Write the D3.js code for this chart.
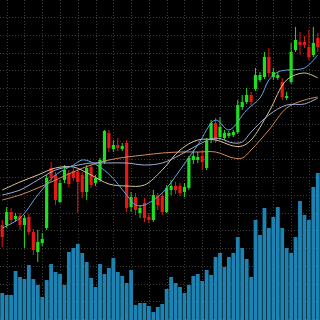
<!DOCTYPE html>
<html>
<head>
<meta charset="utf-8">
<script src="https://cdn.jsdelivr.net/npm/d3@7"></script>
<style>
  html, body { margin: 0; padding: 0; background: #000; }
  #chart { width: 320px; height: 320px; }
</style>
</head>
<body>
<div id="chart"></div>
<script>
// candles
var opens  = [1.1095,1.1095,1.1108,1.1101,1.1104,1.1095,1.1103,1.1088,1.1068,1.1077,1.1092,1.1152,1.1145,1.1118,1.1140,1.1147,1.1149,1.1148,1.1145,1.1128,
              1.1153,1.1137,1.1140,1.1158,1.1187,1.1171,1.1175,1.1171,1.1177,1.1113,1.1123,1.1107,1.1117,1.1103,1.1100,1.1124,1.1124,1.1108,1.1130,1.1134,
              1.1134,1.1128,1.1132,1.1160,1.1160,1.1164,1.1152,1.1180,1.1197,1.1183,1.1182,1.1184,1.1185,1.1188,1.1213,1.1218,1.1225,1.1231,1.1240,1.1243,
              1.1263,1.1243,1.1242,1.1238,1.1222,1.1238,1.1270,1.1278,1.1278,1.1273,1.1265,1.1282];
var highs  = [1.1100,1.1113,1.1112,1.1107,1.1107,1.1105,1.1106,1.1091,1.1090,1.1087,1.1145,1.1158,1.1148,1.1140,1.1155,1.1150,1.1152,1.1151,1.1148,1.1155,
              1.1156,1.1145,1.1162,1.1190,1.1190,1.1180,1.1182,1.1177,1.1180,1.1128,1.1127,1.1115,1.1122,1.1107,1.1130,1.1127,1.1127,1.1135,1.1140,1.1138,
              1.1137,1.1137,1.1164,1.1170,1.1168,1.1170,1.1182,1.1200,1.1202,1.1203,1.1190,1.1189,1.1190,1.1220,1.1225,1.1232,1.1228,1.1252,1.1248,1.1268,
              1.1272,1.1252,1.1248,1.1242,1.1228,1.1277,1.1293,1.1288,1.1284,1.1290,1.1293,1.1287];
var lows   = [1.1073,1.1092,1.1097,1.1098,1.1090,1.1072,1.1085,1.1065,1.1058,1.1074,1.1090,1.1138,1.1115,1.1117,1.1137,1.1133,1.1139,1.1107,1.1122,1.1120,
              1.1132,1.1134,1.1138,1.1156,1.1168,1.1168,1.1169,1.1169,1.1108,1.1108,1.1105,1.1102,1.1098,1.1097,1.1098,1.1110,1.1105,1.1107,1.1125,1.1126,
              1.1124,1.1123,1.1130,1.1156,1.1157,1.1150,1.1150,1.1177,1.1177,1.1180,1.1180,1.1182,1.1183,1.1186,1.1210,1.1216,1.1215,1.1229,1.1238,1.1241,
              1.1243,1.1240,1.1240,1.1220,1.1220,1.1236,1.1268,1.1265,1.1272,1.1260,1.1263,1.1268];
var closes = [1.1083,1.1108,1.1100,1.1104,1.1095,1.1102,1.1088,1.1070,1.1078,1.1081,1.1142,1.1142,1.1120,1.1137,1.1150,1.1136,1.1142,1.1138,1.1128,1.1152,
              1.1135,1.1142,1.1160,1.1189,1.1172,1.1175,1.1172,1.1174,1.1112,1.1123,1.1110,1.1112,1.1102,1.1100,1.1125,1.1115,1.1108,1.1132,1.1134,1.1130,
              1.1127,1.1133,1.1162,1.1164,1.1163,1.1158,1.1179,1.1197,1.1180,1.1193,1.1187,1.1187,1.1188,1.1215,1.1218,1.1225,1.1218,1.1245,1.1245,1.1263,
              1.1247,1.1248,1.1245,1.1223,1.1224,1.1268,1.1280,1.1275,1.1275,1.1263,1.1277,1.1273];
var volumes = [270,250,250,490,430,410,550,410,350,230,400,560,480,460,350,680,720,760,670,580,
               420,330,560,460,520,620,480,440,370,500,150,170,170,140,80,130,160,310,430,370,
               330,270,350,440,460,390,500,450,630,670,530,630,670,830,720,610,430,1000,850,1120,
               920,1030,1130,920,720,670,830,1190,1050,1000,1330,1470];

// moving average lines, sampled at candle index
var maFastIdx = [0,4,8,12,16,18,20,24,28,30,32,36,40,44,48,51,55,58,60,62,64,68,71];
var maFast    = [1.1092,1.1102,1.1125,1.1145,1.1155,1.1160,1.1158,1.1146,1.1125,1.1115,1.1115,1.1127,1.1150,1.1175,1.1200,1.1190,1.1210,1.1222,1.1240,1.1248,1.1250,1.1252,1.1265];
var maIdx     = [0,4,8,12,16,20,24,28,32,36,40,44,48,52,54,56,60,64,68,71];
var maLav     = [1.1125,1.1130,1.1140,1.1150,1.1154,1.1157,1.1157,1.1157,1.1155,1.1157,1.1165,1.1175,1.1182,1.1177,1.1178,1.1188,1.1205,1.1215,1.1216,1.1222];
var maBeige   = [1.1130,1.1138,1.1145,1.1152,1.1153,1.1145,1.1136,1.1134,1.1135,1.1150,1.1170,1.1180,1.1180,1.1174,1.1174,1.1180,1.1208,1.1240,1.1247,1.1242];
var maOrange  = [1.1120,1.1125,1.1132,1.1140,1.1148,1.1155,1.1160,1.1163,1.1165,1.1167,1.1168,1.1168,1.1168,1.1162,1.1162,1.1170,1.1190,1.1212,1.1220,1.1223];

var width = 320, height = 320;

var svg = d3.select("#chart").append("svg")
    .attr("width", width)
    .attr("height", height)
    .style("display", "block")
    .style("background", "#000");

var x = d3.scaleBand().domain(d3.range(opens.length)).range([0, width]);
var y = d3.scaleLinear().domain([1.1000, 1.1320]).range([height, 0]);
var yVol = d3.scaleLinear().domain([0, 3200]).range([height, 0]);

var cx = function(i) { return x(i) + x.bandwidth() / 2; };

// dotted grid, every 4 candles
var gridX = d3.range(1, opens.length, 4);
var step = x.bandwidth() * 4;
var gridY = d3.range(17, height, step);

var grid = svg.append("g").attr("class", "grid")
    .attr("stroke", "#3c3c3c")
    .attr("stroke-width", 1)
    .attr("stroke-dasharray", "1,2");
grid.selectAll(".gx").data(gridX).enter().append("line")
    .attr("x1", function(d) { return Math.round(cx(d)) + 0.5; })
    .attr("x2", function(d) { return Math.round(cx(d)) + 0.5; })
    .attr("y1", 0).attr("y2", height);
grid.selectAll(".gy").data(gridY).enter().append("line")
    .attr("y1", function(d) { return Math.round(d) + 0.5; })
    .attr("y2", function(d) { return Math.round(d) + 0.5; })
    .attr("x1", 0).attr("x2", width);

// volume
svg.append("g").selectAll("rect")
    .data(volumes)
    .enter().append("rect")
    .attr("x", function(d, i) { return x(i) + 0.3; })
    .attr("width", x.bandwidth() - 0.6)
    .attr("y", function(d) { return yVol(d); })
    .attr("height", function(d) { return height - yVol(d); })
    .style("fill", "#1c83b3");

// candles
var up = "#1fe01f", down = "#e81818";
var candle = svg.append("g").selectAll("g")
    .data(opens)
    .enter().append("g");

candle.append("line")
    .attr("x1", function(d, i) { return cx(i); })
    .attr("x2", function(d, i) { return cx(i); })
    .attr("y1", function(d, i) { return y(highs[i]); })
    .attr("y2", function(d, i) { return y(lows[i]); })
    .attr("stroke", function(d, i) { return closes[i] >= d ? up : down; })
    .attr("stroke-width", 1);

candle.append("rect")
    .attr("x", function(d, i) { return cx(i) - 1.6; })
    .attr("width", 3.2)
    .attr("y", function(d, i) { return y(Math.max(d, closes[i])); })
    .attr("height", function(d, i) { return Math.max(1, Math.abs(y(d) - y(closes[i]))); })
    .style("fill", function(d, i) { return closes[i] >= d ? up : down; });

// moving averages
var lines = [
  {idx: maIdx, val: maOrange, color: "#d58a5c"},
  {idx: maIdx, val: maBeige, color: "#d9c596"},
  {idx: maIdx, val: maLav, color: "#a2acd6"},
  {idx: maFastIdx, val: maFast, color: "#5aa6e0"}
];
var line = d3.line()
    .x(function(d) { return cx(d[0]); })
    .y(function(d) { return y(d[1]); })
    .curve(d3.curveCatmullRom);

svg.append("g").selectAll("path")
    .data(lines)
    .enter().append("path")
    .attr("d", function(s) { return line(d3.zip(s.idx, s.val)); })
    .attr("fill", "none")
    .attr("stroke", function(s) { return s.color; })
    .attr("stroke-width", 1);
</script>
</body>
</html>
